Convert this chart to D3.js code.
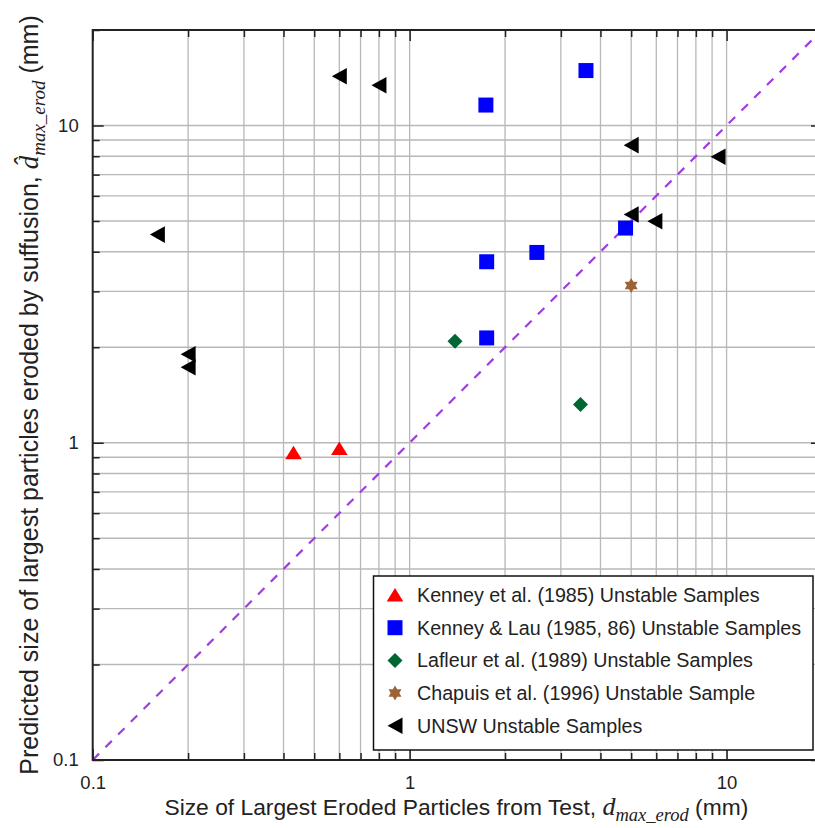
<!DOCTYPE html>
<html>
<head>
<meta charset="utf-8">
<script src="https://cdn.jsdelivr.net/npm/d3@7"></script>
<style>
  body { margin: 0; background: #fff; }
  svg { display: block; font-family: Arial, "Liberation Sans", sans-serif; }
</style>
</head>
<body>
<div id="graph"></div>
<script>
var kenney    = [[0.43, 0.93], [0.6, 0.96]]
var kenneyLau = [[3.6, 14.9], [1.74, 11.6], [4.8, 4.75], [2.52, 3.98], [1.75, 3.72], [1.75, 2.14]]
var lafleur   = [[1.39, 2.09], [3.46, 1.32]]
var chapuis   = [[5.0, 3.13]]
var unsw      = [[0.6, 14.3], [0.8, 13.4], [0.16, 4.53], [0.2, 1.9], [0.2, 1.73],
                 [5.0, 8.67], [9.4, 7.97], [5.0, 5.24], [5.94, 4.99]]

var seriesNames = [
  'Kenney et al. (1985) Unstable Samples',
  'Kenney & Lau (1985, 86) Unstable Samples',
  'Lafleur et al. (1989) Unstable Samples',
  'Chapuis et al. (1996) Unstable Sample',
  'UNSW Unstable Samples'
]
var domain = [0.1, 20]
var majorTicks = [0.1, 1, 10]
var minorTicks = [0.2, 0.3, 0.4, 0.5, 0.6, 0.7, 0.8, 0.9, 2, 3, 4, 5, 6, 7, 8, 9, 20]

// marker shapes, centred on their bounding box
var shapes = {
  triUp:   'M0,-7L8.3,6.5L-8.3,6.5Z',
  square:  'M-7.5,-7.5H7.5V7.5H-7.5Z',
  diamond: 'M0,-7.5L7.5,0L0,7.5L-7.5,0Z',
  star:    'M0,-7.5L6.5,3.75L-6.5,3.75Z M0,7.5L-6.5,-3.75L6.5,-3.75Z',
  triLeft: 'M-7.5,0L7.5,-8.3L7.5,8.3Z'
}

var series = [
  {data: kenney,    shape: 'triUp',   color: '#ff0000'},
  {data: kenneyLau, shape: 'square',  color: '#0000ff'},
  {data: lafleur,   shape: 'diamond', color: '#006633'},
  {data: chapuis,   shape: 'star',    color: '#9c6436'},
  {data: unsw,      shape: 'triLeft', color: '#000000'}
]
series.forEach((d, i) => d.name = seriesNames[i])

var W = 815, H = 828
var m = {left: 92.7, top: 30, right: 822, bottom: 760}

var svg = d3.select('#graph').append('svg').attr('width', W).attr('height', H)

var x = d3.scaleLog().domain(domain).range([m.left, m.right])
var y = d3.scaleLog().domain(domain).range([m.bottom, m.top])

// grid
var grid = svg.append('g').attr('stroke', '#b8b8b8').attr('stroke-width', 1.3)
grid.selectAll('.gx').data(minorTicks.concat([1, 10])).enter().append('line')
  .attr('x1', d => x(d)).attr('x2', d => x(d))
  .attr('y1', m.top).attr('y2', m.bottom)
grid.selectAll('.gy').data(minorTicks.concat([1, 10])).enter().append('line')
  .attr('y1', d => y(d)).attr('y2', d => y(d))
  .attr('x1', m.left).attr('x2', m.right)

// 1:1 line
svg.append('line')
  .attr('x1', x(domain[0])).attr('y1', y(domain[0]))
  .attr('x2', x(domain[1])).attr('y2', y(domain[1]))
  .attr('stroke', '#a03de0').attr('stroke-width', 2.2)
  .attr('stroke-dasharray', '9,9')

// axes with inward ticks
function styleAxis(g) {
  g.select('.domain').remove()
  g.selectAll('line').attr('stroke', '#222').attr('stroke-width', 1.5)
  g.selectAll('text').attr('fill', '#222').style('font-size', '18.5px')
    .style('font-family', 'Arial, "Liberation Sans", sans-serif')
}
var noLabel = () => ''
var fmt = d => d3.format('~g')(d)

svg.append('g').attr('transform', `translate(0,${m.bottom})`)
  .call(d3.axisBottom(x).tickValues(majorTicks).tickSize(-11).tickPadding(16).tickFormat(fmt)).call(styleAxis)
svg.append('g').attr('transform', `translate(0,${m.bottom})`)
  .call(d3.axisBottom(x).tickValues(minorTicks).tickSize(-7).tickFormat(noLabel)).call(styleAxis)
svg.append('g').attr('transform', `translate(0,${m.top})`)
  .call(d3.axisTop(x).tickValues(majorTicks).tickSize(-11).tickFormat(noLabel)).call(styleAxis)
svg.append('g').attr('transform', `translate(0,${m.top})`)
  .call(d3.axisTop(x).tickValues(minorTicks).tickSize(-7).tickFormat(noLabel)).call(styleAxis)

svg.append('g').attr('transform', `translate(${m.left},0)`)
  .call(d3.axisLeft(y).tickValues(majorTicks).tickSize(-11).tickPadding(14).tickFormat(fmt)).call(styleAxis)
svg.append('g').attr('transform', `translate(${m.left},0)`)
  .call(d3.axisLeft(y).tickValues(minorTicks).tickSize(-7).tickFormat(noLabel)).call(styleAxis)
svg.append('g').attr('transform', `translate(${m.right},0)`)
  .call(d3.axisRight(y).tickValues(majorTicks).tickSize(-11).tickFormat(noLabel)).call(styleAxis)
svg.append('g').attr('transform', `translate(${m.right},0)`)
  .call(d3.axisRight(y).tickValues(minorTicks).tickSize(-7).tickFormat(noLabel)).call(styleAxis)

// frame
svg.append('rect')
  .attr('x', m.left).attr('y', m.top)
  .attr('width', m.right - m.left).attr('height', m.bottom - m.top)
  .attr('fill', 'none').attr('stroke', '#222').attr('stroke-width', 2)

// points
series.forEach(s => {
  svg.append('g').selectAll('path').data(s.data).enter().append('path')
    .attr('d', shapes[s.shape])
    .attr('transform', d => `translate(${x(d[0])},${y(d[1])})`)
    .attr('fill', s.color)
})

// legend
var lg = svg.append('g').attr('transform', 'translate(373.5,576)')
lg.append('rect').attr('width', 439.5).attr('height', 174)
  .attr('fill', '#fff').attr('stroke', '#111').attr('stroke-width', 1.5)
var row = lg.selectAll('.row').data(series).enter().append('g')
  .attr('transform', (d, i) => `translate(0,${19 + i * 32.7})`)
row.append('path').attr('d', d => shapes[d.shape])
  .attr('transform', 'translate(21.5,0)').attr('fill', d => d.color)
row.append('text').text(d => d.name)
  .attr('x', 43.5).attr('dy', '0.35em')
  .style('font-size', '19.7px').attr('fill', '#222')

// axis titles
var serif = '"Times New Roman", "Liberation Serif", serif'
var xt = svg.append('text')
  .attr('x', (m.left + m.right) / 2 - 1).attr('y', 815)
  .attr('text-anchor', 'middle').style('font-size', '22.8px').attr('fill', '#222')
xt.append('tspan').text('Size of Largest Eroded Particles from Test, ')
xt.append('tspan').text('d').style('font-family', serif).style('font-style', 'italic').style('font-size', '26px')
xt.append('tspan').text('max_erod').attr('dy', 6).style('font-family', serif).style('font-style', 'italic').style('font-size', '18.5px')
xt.append('tspan').text(' (mm)').attr('dy', -6)

var yt = svg.append('text')
  .attr('transform', `translate(38,${(m.top + m.bottom) / 2}) rotate(-90)`)
  .attr('text-anchor', 'middle').style('font-size', '25px').attr('fill', '#222')
yt.append('tspan').text('Predicted size of largest particles eroded by suffusion, ')
yt.append('tspan').text('d\u0302').style('font-family', serif).style('font-style', 'italic').style('font-size', '27px')
yt.append('tspan').text('max_erod').attr('dy', 7).style('font-family', serif).style('font-style', 'italic').style('font-size', '19px')
yt.append('tspan').text(' (mm)').attr('dy', -7)
</script>
</body>
</html>
